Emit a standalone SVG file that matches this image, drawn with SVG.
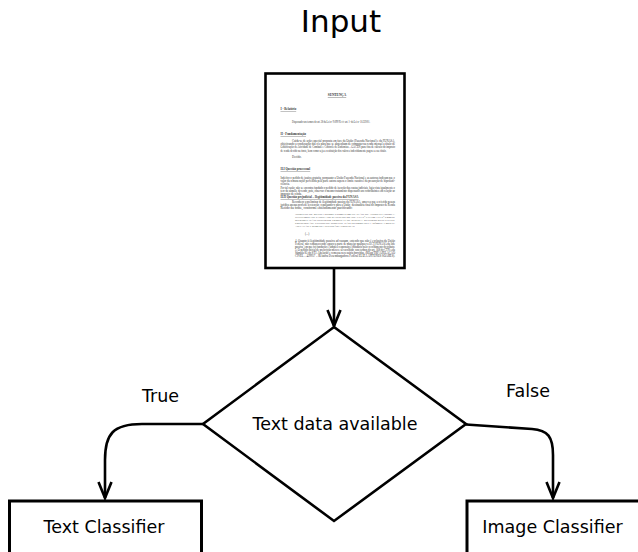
<svg xmlns="http://www.w3.org/2000/svg" width="638" height="552" viewBox="0 0 638 552">
  <style>
    .label { font-family: "DejaVu Sans", "Liberation Sans", sans-serif; fill: #000; }
    .title { font-size: 31px; }
    .txt { font-size: 17.5px; }
    .shape { fill: #fff; stroke: #000; stroke-width: 2.6; }
    .box { fill: #fff; stroke: #000; stroke-width: 3; }
    .conn { fill: none; stroke: #000; stroke-width: 2.6; }
    .doc { font-family: "Liberation Serif", "DejaVu Serif", serif; font-size: 3px; fill: #333; }
    .doc-h { font-weight: bold; text-decoration: underline; }
    .doc-c { font-size: 2.8px; }
  </style>
  <defs>
    <marker id="arrow" markerUnits="userSpaceOnUse" viewBox="-20 -10 24 20" refX="0" refY="0" markerWidth="24" markerHeight="20" orient="auto">
      <path d="M-16,-6.5 L0,0 L-16,6.5" fill="none" stroke="#000" stroke-width="2.6"/>
    </marker>
  </defs>

  <rect width="638" height="552" fill="#fff"/>

  <!-- title -->
  <text class="label title" x="341" y="32" text-anchor="middle">Input</text>

  <!-- input document: scanned court ruling page -->
  <g id="input-document">
    <rect class="shape" x="265.5" y="73.5" width="139" height="194.5"/>
    <g class="doc">
      <text class="doc-h" x="337" y="96" text-anchor="middle" font-size="3.4">SENTENÇA</text>
      <text class="doc-h" x="280.5" y="110">I - Relatório</text>
      <text x="292" y="123" textLength="78" lengthAdjust="spacingAndGlyphs">Dispensado nos termos do art. 38 da Lei nº 9.099/95 c/c art. 1º da Lei nº 10.259/01.</text>
      <text class="doc-h" x="280.5" y="135">II - Fundamentação</text>
      <text x="292" y="141.5" textLength="103" lengthAdjust="spacingAndGlyphs">Cuida-se de ação especial proposta em face da União (Fazenda Nacional) e da FUNASA,</text>
      <text x="280.5" y="145" textLength="114.5" lengthAdjust="spacingAndGlyphs">objetivando a condenação das rés para que se abstenham de computar na renda mensal a título de</text>
      <text x="280.5" y="148.3" textLength="114.5" lengthAdjust="spacingAndGlyphs">Gratificação de Atividade de Combate e Controle de Endemias – GACEN para fins de cálculo do imposto</text>
      <text x="280.5" y="151.6" textLength="106" lengthAdjust="spacingAndGlyphs">de renda devido na fonte, bem como seja a restituição dos valores indevidamente pagos a esse título.</text>
      <text x="292" y="158">Decido.</text>
      <text class="doc-h" x="280.5" y="170">II.I Questão processual</text>
      <text x="280.5" y="179" textLength="114.5" lengthAdjust="spacingAndGlyphs">Indefiro o pedido de justiça gratuita, porquanto a União Fazenda Nacional e as autoras indicam que o</text>
      <text x="280.5" y="182" textLength="114.5" lengthAdjust="spacingAndGlyphs">valor da remuneração percebida pela parte autora supera o limite razoável da presunção de hipossufi-</text>
      <text x="280.5" y="185">ciência.</text>
      <text x="280.5" y="189" textLength="114.5" lengthAdjust="spacingAndGlyphs">Por tal razão, não se encontra fundado o pedido de isenção das custas judiciais, haja vista igualmente o</text>
      <text x="280.5" y="192" textLength="114.5" lengthAdjust="spacingAndGlyphs">teor da súmula, devendo, pois, observar o mesmo tratamento dispensado aos contribuintes em relação ao</text>
      <text x="280.5" y="195">imposto de renda.</text>
      <text class="doc-h" x="280.5" y="198" textLength="78" lengthAdjust="spacingAndGlyphs">II.II Questão prejudicial – Ilegitimidade passiva da FUNASA</text>
      <text x="292" y="203" textLength="103" lengthAdjust="spacingAndGlyphs">Reconheço a preliminar de ilegitimidade passiva da FUNASA, uma vez que a referida pessoa</text>
      <text x="280.5" y="206" textLength="114.5" lengthAdjust="spacingAndGlyphs">jurídica apenas procede à retenção, repassando-o para a União, destinatária final do Imposto de Renda</text>
      <text x="280.5" y="209" textLength="72" lengthAdjust="spacingAndGlyphs">Retido na fonte, conforme entendimento pacificado:</text>
      <text class="doc-c" x="295" y="215" textLength="100" lengthAdjust="spacingAndGlyphs">"DIREITO DE RENDA SOBRE COMPLEMENTAÇÃO DE APOSENTADORIA.</text>
      <text class="doc-c" x="295" y="218" textLength="100" lengthAdjust="spacingAndGlyphs">ILEGITIMIDADE PASSIVA DO BANCO DO BRASIL. LEI Nº 7.713/88. LEI Nº 9.250/95.</text>
      <text class="doc-c" x="295" y="221" textLength="100" lengthAdjust="spacingAndGlyphs">BITRIBUTAÇÃO. SUPERIOR TRIBUNAL DE JUSTIÇA. RECURSO REPETITIVO.</text>
      <text class="doc-c" x="295" y="224" textLength="100" lengthAdjust="spacingAndGlyphs">PRESCRIÇÃO. FUNDO DE DIREITO. NÃO OCORRÊNCIA. SÚMULA 85/STJ.</text>
      <text class="doc-c" x="295" y="227" textLength="60" lengthAdjust="spacingAndGlyphs">APELAÇÃO E REMESSA NECESSÁRIA PROVIDAS.</text>
      <text x="305" y="234.5">(...)</text>
      <text x="295" y="242" textLength="100" lengthAdjust="spacingAndGlyphs">4. Quanto à ilegitimidade passiva ad causam, entendo que não é exclusiva da União</text>
      <text x="295" y="245" textLength="100" lengthAdjust="spacingAndGlyphs">Federal, não remanescendo espaço a parte de manejar qualquer a ECT/FUNASA da lide</text>
      <text x="295" y="248" textLength="100" lengthAdjust="spacingAndGlyphs">passiva, em que foi fundação é simples responsável tributário pelo recolhimento do tributo.</text>
      <text x="295" y="251" textLength="100" lengthAdjust="spacingAndGlyphs">5. O pedido inicial de prescrição merece ser acolhido, nos termos do art. 168 do CTN e da</text>
      <text x="295" y="254" textLength="100" lengthAdjust="spacingAndGlyphs">Súmula 85 do STJ. Apelação e remessa necessária providas. (REsp/TRF/APELAÇÃO</text>
      <text x="295" y="257" textLength="100" lengthAdjust="spacingAndGlyphs">CÍVEL – 429957 – Relatora Desembargadora Federal ELIZA ANTUNES SOARES).</text>
    </g>
  </g>

  <!-- decision -->
  <g id="decision">
    <polygon class="shape" points="334,327 466,424 334,521 203,424"/>
    <text class="label txt" x="335" y="430" text-anchor="middle">Text data available</text>
  </g>

  <!-- classifiers -->
  <g id="text-classifier">
    <rect class="box" x="9.5" y="501" width="192" height="70"/>
    <text class="label txt" x="104" y="533" text-anchor="middle">Text Classifier</text>
  </g>
  <g id="image-classifier">
    <rect class="box" x="467" y="501" width="190" height="70"/>
    <text class="label txt" x="552.5" y="533" text-anchor="middle">Image Classifier</text>
  </g>

  <!-- connectors -->
  <g id="connectors">
    <path class="conn" d="M334,269 V326" marker-end="url(#arrow)"/>
    <path class="conn" d="M203,424 H142 C113,424 105,434 105,460 V498" marker-end="url(#arrow)"/>
    <path class="conn" d="M466,424.5 L532,429 C548,430 553,437 553,455 V498" marker-end="url(#arrow)"/>
    <text class="label txt" x="160.5" y="402" text-anchor="middle">True</text>
    <text class="label txt" x="528" y="397" text-anchor="middle">False</text>
  </g>
</svg>
